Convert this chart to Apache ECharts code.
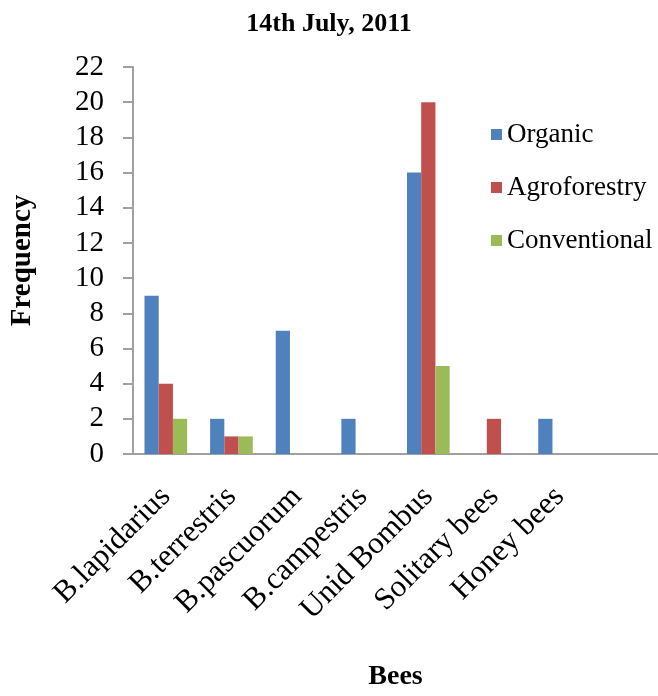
<!DOCTYPE html>
<html>
<head>
<meta charset="utf-8">
<script src="https://cdn.jsdelivr.net/npm/echarts@6/dist/echarts.min.js"></script>
<style>
html,body{margin:0;padding:0;background:#fff;}
#chart{width:658px;height:696px;}
</style>
</head>
<body>
<div id="chart"></div>
<script>
const titleText = '14th July, 2011';
const categories = ['B.lapidarius', 'B.terrestris', 'B.pascuorum', 'B.campestris', 'Unid Bombus', 'Solitary bees', 'Honey bees', ''];
const seriesNames = ['Organic', 'Agroforestry', 'Conventional'];
const organic = [9, 2, 7, 2, 16, 0, 2];
const agroforestry = [4, 1, 0, 0, 20, 2, 0];
const conventional = [2, 1, 0, 0, 5, 0, 0];
const colors = ['#4F81BD', '#C0504D', '#9BBB59'];
const yMin = 0, yMax = 22, yStep = 2;

const font = '"Liberation Serif", "Times New Roman", serif';
const chart = echarts.init(document.getElementById('chart'), null, {renderer: 'canvas'});
const values = [organic, agroforestry, conventional];
chart.setOption({
  animation: false,
  color: colors,
  title: {
    text: titleText, left: 'center', top: 6,
    textStyle: {fontFamily: font, fontWeight: 'bold', fontSize: 26, color: '#000'}
  },
  legend: {
    orient: 'vertical', left: 486, top: 116,
    itemWidth: 11, itemHeight: 11, itemGap: 26, icon: 'rect',
    textStyle: {fontFamily: font, fontSize: 27, color: '#000'},
    data: seriesNames
  },
  grid: {left: 119, top: 67, width: 541, height: 412.5, containLabel: false},
  xAxis: {
    type: 'category', data: categories,
    axisLine: {lineStyle: {color: '#A0A0A0', width: 2}},
    axisTick: {show: false},
    axisLabel: {rotate: 45, interval: 0, margin: 38, fontFamily: font, fontSize: 31, color: '#000'},
    name: 'Bees', nameLocation: 'middle', nameGap: 209,
    nameTextStyle: {fontFamily: font, fontWeight: 'bold', fontSize: 28, color: '#000'}
  },
  yAxis: {
    type: 'value', min: yMin, max: yMax, interval: yStep,
    splitLine: {show: false},
    axisLine: {show: true, lineStyle: {color: '#A0A0A0', width: 2}},
    axisTick: {show: true, inside: false, length: 10, lineStyle: {color: '#A0A0A0', width: 2}},
    axisLabel: {margin: 29, fontFamily: font, fontSize: 29, color: '#000'},
    name: 'Frequency', nameLocation: 'middle', nameGap: 96, nameRotate: 90,
    nameTextStyle: {fontFamily: font, fontWeight: 'bold', fontSize: 29, color: '#000'}
  },
  series: seriesNames.map((n, i) => ({
    name: n, type: 'bar', data: values[i],
    barGap: '0%', barCategoryGap: '35%',
    itemStyle: {color: colors[i]}
  }))
});
</script>
</body>
</html>
